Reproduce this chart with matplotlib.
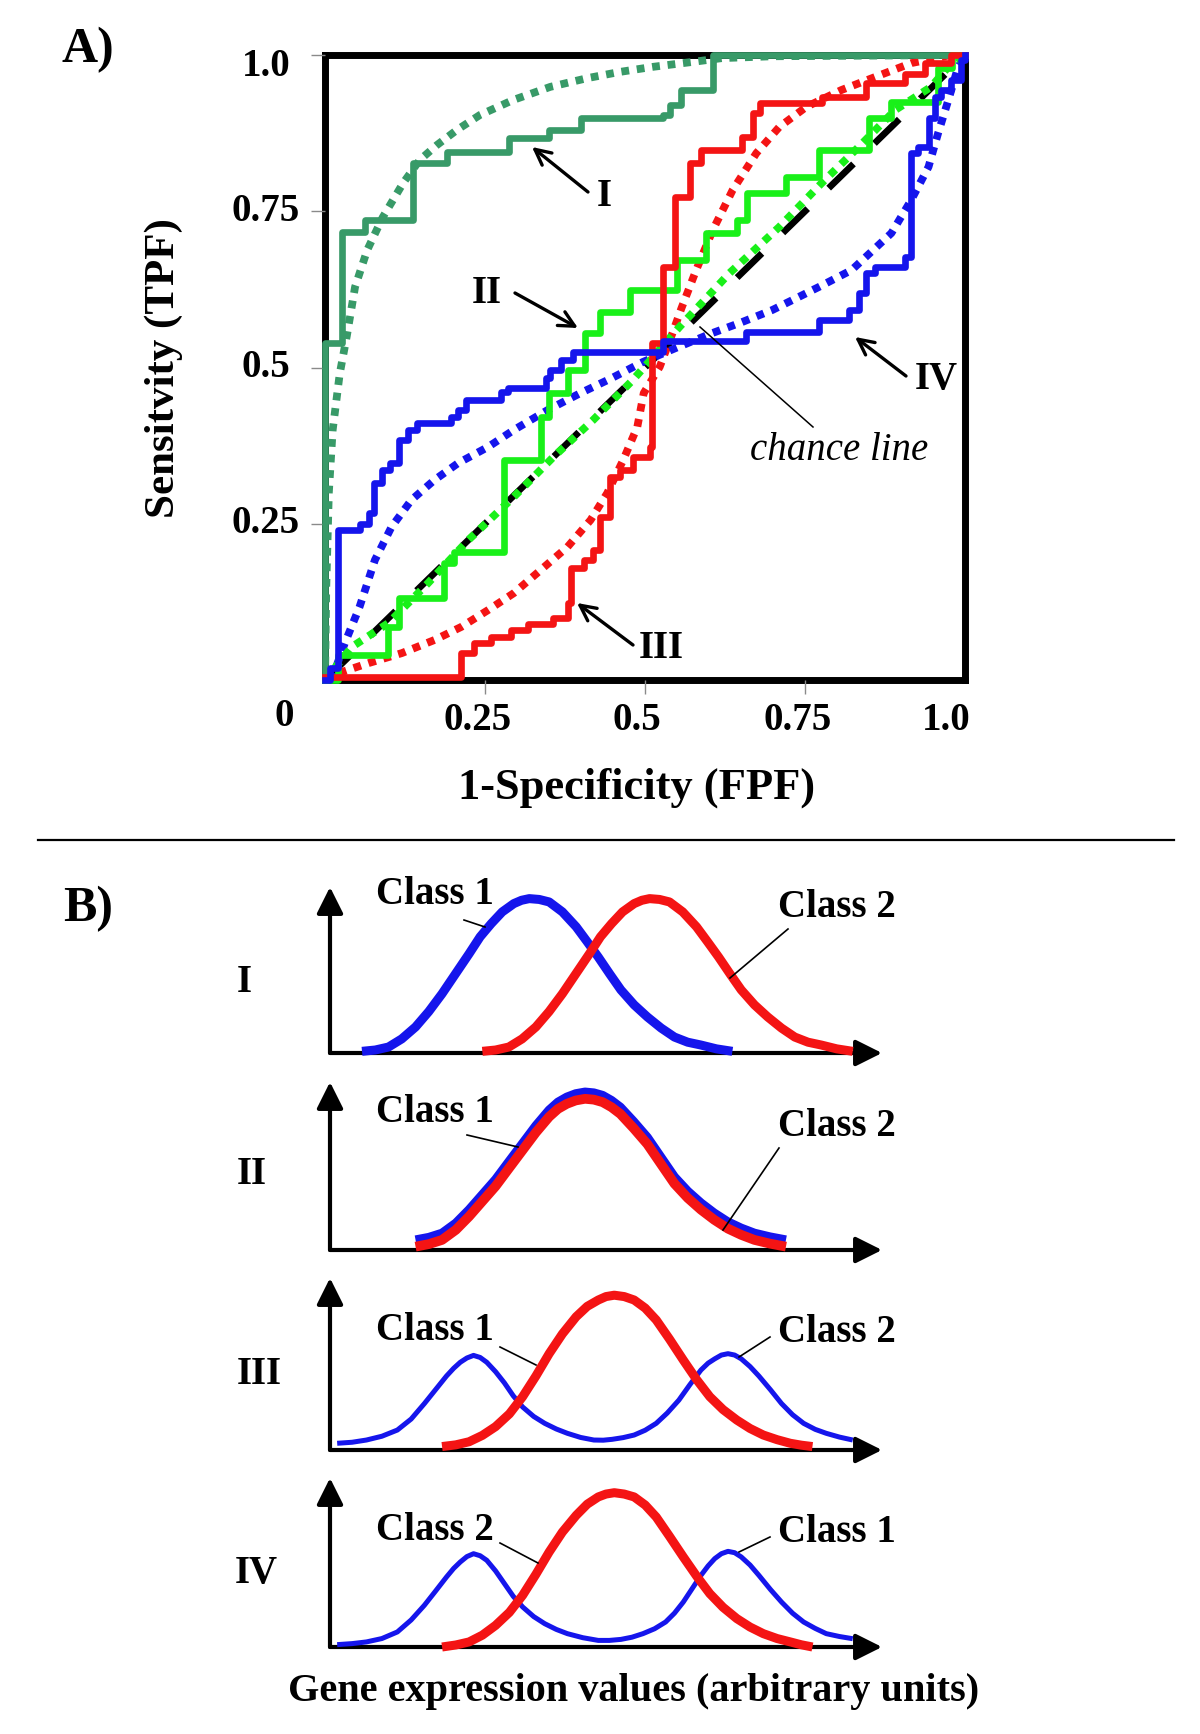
import matplotlib
matplotlib.use('Agg')
import matplotlib.pyplot as plt
import matplotlib.transforms as mtransforms
from matplotlib.patches import FancyArrowPatch
from matplotlib.lines import Line2D

plt.rcParams['font.family'] = ['Liberation Serif', 'DejaVu Serif']

# ---------------- Panel A data (ROC curves) ----------------
xticks = [0.25, 0.5, 0.75]
xticklabels = ['0.25', '0.5', '0.75']
yticks = [0.25, 0.5, 0.75, 1.0]
yticklabels = ['0.25', '0.5', '0.75', '1.0']

# empirical (step) ROC curves, steps-post vertices
roc1_x = [0.0, 0.0, 0.026, 0.062, 0.138, 0.19, 0.287, 0.35, 0.40, 0.528, 0.539, 0.557, 0.606, 1.0]
roc1_y = [0.0, 0.54, 0.717, 0.736, 0.827, 0.845, 0.867, 0.88, 0.90, 0.904, 0.92, 0.944, 1.0, 1.0]

roc2_x = [0.0, 0.02, 0.099, 0.115, 0.186, 0.202, 0.280, 0.337, 0.35, 0.379, 0.407, 0.43, 0.477,
          0.55, 0.596, 0.643, 0.66, 0.72, 0.772, 0.85, 0.885, 0.958, 0.98, 1.0]
roc2_y = [0.0, 0.04, 0.085, 0.131, 0.187, 0.205, 0.352, 0.421, 0.459, 0.496, 0.555, 0.589, 0.624,
          0.672, 0.715, 0.736, 0.78, 0.805, 0.848, 0.9, 0.925, 0.98, 1.0, 1.0]

roc3_x = [0.0, 0.213, 0.233, 0.26, 0.29, 0.317, 0.357, 0.379, 0.384, 0.404, 0.419, 0.43, 0.446,
          0.461, 0.481, 0.508, 0.511, 0.528, 0.547, 0.57, 0.588, 0.652, 0.668, 0.679, 0.776,
          0.845, 0.907, 0.938, 0.978, 1.0]
roc3_y = [0.005, 0.043, 0.06, 0.069, 0.08, 0.09, 0.10, 0.123, 0.18, 0.192, 0.208, 0.261, 0.325,
          0.336, 0.357, 0.373, 0.539, 0.661, 0.773, 0.827, 0.848, 0.869, 0.907, 0.923, 0.933,
          0.955, 0.97, 0.987, 1.0, 1.0]

roc4_x = [0.0, 0.008, 0.021, 0.055, 0.068, 0.076, 0.089, 0.101, 0.115, 0.13, 0.143, 0.197, 0.208,
          0.22, 0.275, 0.286, 0.345, 0.352, 0.368, 0.388, 0.528, 0.658, 0.772, 0.818, 0.834,
          0.845, 0.86, 0.907, 0.916, 0.927, 0.943, 0.953, 0.963, 0.978, 0.994, 1.0]
roc4_y = [0.0, 0.02, 0.24, 0.25, 0.267, 0.315, 0.336, 0.347, 0.384, 0.40, 0.411, 0.421, 0.432,
          0.448, 0.461, 0.467, 0.483, 0.496, 0.512, 0.525, 0.542, 0.557, 0.576, 0.592, 0.619,
          0.651, 0.661, 0.677, 0.843, 0.853, 0.9, 0.933, 0.944, 0.96, 0.992, 1.0]

# smooth (fitted) ROC curves, read at points
fit1_x = [0.0, 0.002, 0.006, 0.012, 0.023, 0.034, 0.047, 0.066, 0.09, 0.122, 0.148, 0.175, 0.206,
          0.242, 0.294, 0.352, 0.41, 0.461, 0.512, 0.575, 0.62, 0.7, 1.0]
fit1_y = [0.0, 0.15, 0.30, 0.40, 0.49, 0.55, 0.629, 0.688, 0.74, 0.795, 0.832, 0.856, 0.88,
          0.904, 0.928, 0.949, 0.963, 0.973, 0.981, 0.989, 0.995, 0.998, 1.0]

fit2_x = [0.0, 0.042, 0.099, 0.161, 0.224, 0.295, 0.357, 0.419, 0.481, 0.554, 0.632, 0.71,
          0.776, 0.834, 0.891, 0.947, 0.974, 1.0]
fit2_y = [0.0, 0.053, 0.091, 0.155, 0.224, 0.293, 0.357, 0.416, 0.48, 0.565, 0.651, 0.725,
          0.795, 0.853, 0.912, 0.949, 0.981, 1.0]

fit3_x = [0.0, 0.021, 0.068, 0.12, 0.171, 0.213, 0.255, 0.295, 0.337, 0.379, 0.415, 0.441, 0.466,
          0.488, 0.498, 0.523, 0.543, 0.557, 0.58, 0.606, 0.637, 0.674, 0.71, 0.752, 0.807, 0.86,
          0.916, 0.978, 1.0]
fit3_y = [0.0, 0.011, 0.027, 0.043, 0.064, 0.085, 0.112, 0.139, 0.176, 0.213, 0.256, 0.299, 0.352,
          0.405, 0.459, 0.501, 0.555, 0.595, 0.656, 0.72, 0.784, 0.843, 0.885, 0.917, 0.944, 0.965,
          0.987, 1.0, 1.0]

fit4_x = [0.01, 0.031, 0.054, 0.078, 0.104, 0.135, 0.171, 0.208, 0.255, 0.295, 0.348, 0.399, 0.448,
          0.497, 0.55, 0.605, 0.65, 0.699, 0.772, 0.823, 0.885, 0.916, 0.943, 0.958, 0.974, 0.989, 1.0]
fit4_y = [0.0, 0.059, 0.117, 0.192, 0.245, 0.288, 0.32, 0.347, 0.373, 0.40, 0.432, 0.459, 0.483,
          0.509, 0.532, 0.555, 0.572, 0.592, 0.629, 0.656, 0.715, 0.768, 0.821, 0.875, 0.928, 0.98, 1.0]

chance_x = [0.0, 1.0]
chance_y = [0.0, 1.0]

# ---------------- Panel B data (class distributions) ----------------
I_blue_x = [0.58, 0.82, 1.06, 1.30, 1.55, 1.79, 2.03, 2.28, 2.52, 2.72, 2.92, 3.12, 3.33, 3.47, 3.61,
            3.79, 3.97, 4.21, 4.46, 4.66, 4.86, 5.07, 5.27, 5.51, 5.75, 6.00, 6.24, 6.48, 6.72, 7.00, 7.29]
I_blue_y = [0.01, 0.018, 0.036, 0.085, 0.157, 0.25, 0.357, 0.48, 0.598, 0.70, 0.779, 0.85, 0.90, 0.92, 0.93,
            0.925, 0.91, 0.85, 0.76, 0.67, 0.578, 0.475, 0.38, 0.29, 0.217, 0.15, 0.096, 0.065, 0.048, 0.025, 0.01]
I_red_x = [2.76, 3.00, 3.24, 3.48, 3.73, 3.97, 4.21, 4.46, 4.70, 4.90, 5.10, 5.30, 5.51, 5.65, 5.79,
           5.97, 6.15, 6.39, 6.64, 6.84, 7.04, 7.25, 7.45, 7.69, 7.93, 8.18, 8.42, 8.66, 8.90, 9.18, 9.47]
I_red_y = [0.01, 0.018, 0.036, 0.085, 0.157, 0.25, 0.357, 0.48, 0.598, 0.70, 0.779, 0.85, 0.90, 0.92, 0.93,
           0.925, 0.91, 0.85, 0.76, 0.67, 0.578, 0.475, 0.38, 0.29, 0.217, 0.15, 0.096, 0.065, 0.048, 0.025, 0.01]

II_x = [1.55, 1.79, 2.03, 2.28, 2.52, 2.76, 3.00, 3.25, 3.49, 3.73, 3.97, 4.13, 4.29, 4.45, 4.62, 4.78,
        4.94, 5.10, 5.26, 5.50, 5.75, 6.00, 6.24, 6.48, 6.72, 6.96, 7.21, 7.45, 7.69, 7.97, 8.26]
II_blue_y = [0.06, 0.075, 0.10, 0.16, 0.24, 0.33, 0.42, 0.53, 0.635, 0.74, 0.833, 0.88, 0.91, 0.93, 0.94, 0.935,
             0.92, 0.89, 0.85, 0.765, 0.67, 0.55, 0.435, 0.35, 0.28, 0.22, 0.167, 0.13, 0.10, 0.078, 0.06]
II_red_y = [0.02, 0.035, 0.06, 0.12, 0.20, 0.29, 0.38, 0.49, 0.595, 0.70, 0.793, 0.84, 0.87, 0.89, 0.90, 0.895,
            0.88, 0.85, 0.81, 0.725, 0.63, 0.51, 0.395, 0.31, 0.24, 0.18, 0.127, 0.09, 0.06, 0.038, 0.02]

III_blue_x = [0.13, 0.40, 0.66, 0.94, 1.22, 1.47, 1.71, 1.91, 2.11, 2.24, 2.36, 2.48, 2.60, 2.72, 2.84,
              3.00, 3.16, 3.32, 3.49, 3.69, 3.89, 4.10, 4.30, 4.54, 4.78, 4.95, 5.11, 5.31, 5.51, 5.71,
              5.91, 6.11, 6.32, 6.52, 6.72, 6.85, 6.97, 7.09, 7.21, 7.33, 7.45, 7.61, 7.77, 7.98, 8.18,
              8.38, 8.58, 8.79, 8.99, 9.23, 9.47]
III_blue_y = [0.039, 0.045, 0.058, 0.08, 0.116, 0.18, 0.27, 0.35, 0.43, 0.475, 0.51, 0.535, 0.55, 0.538, 0.51,
              0.455, 0.39, 0.315, 0.25, 0.195, 0.155, 0.122, 0.097, 0.073, 0.058, 0.057, 0.062, 0.072, 0.087, 0.115,
              0.155, 0.215, 0.29, 0.38, 0.465, 0.505, 0.53, 0.552, 0.56, 0.552, 0.53, 0.485, 0.43, 0.35, 0.27,
              0.205, 0.155, 0.12, 0.097, 0.075, 0.058]
III_red_x = [2.03, 2.28, 2.52, 2.76, 3.00, 3.25, 3.49, 3.73, 3.97, 4.21, 4.46, 4.66, 4.86, 5.00, 5.15, 5.33,
             5.51, 5.71, 5.91, 6.15, 6.40, 6.64, 6.88, 7.12, 7.37, 7.61, 7.85, 8.10, 8.34, 8.54, 8.74]
III_red_y = [0.02, 0.03, 0.048, 0.085, 0.136, 0.21, 0.31, 0.43, 0.56, 0.675, 0.775, 0.835, 0.872, 0.892, 0.90, 0.892,
             0.872, 0.825, 0.756, 0.645, 0.523, 0.41, 0.31, 0.235, 0.174, 0.125, 0.087, 0.06, 0.039, 0.028, 0.02]

IV_blue_x = [0.13, 0.40, 0.66, 0.94, 1.22, 1.47, 1.71, 1.91, 2.11, 2.24, 2.36, 2.48, 2.60, 2.72, 2.84,
             3.00, 3.16, 3.32, 3.49, 3.69, 3.89, 4.10, 4.30, 4.58, 4.86, 5.06, 5.27, 5.47, 5.67, 5.88,
             6.08, 6.24, 6.40, 6.56, 6.72, 6.85, 6.97, 7.09, 7.21, 7.33, 7.45, 7.61, 7.77, 7.98, 8.18,
             8.38, 8.58, 8.79, 8.99, 9.23, 9.47]
IV_blue_y = [0.014, 0.02, 0.03, 0.05, 0.089, 0.16, 0.247, 0.33, 0.414, 0.465, 0.503, 0.535, 0.552, 0.54, 0.513,
             0.45, 0.375, 0.30, 0.237, 0.18, 0.138, 0.104, 0.079, 0.055, 0.039, 0.039, 0.045, 0.058, 0.079, 0.108,
             0.148, 0.20, 0.266, 0.345, 0.424, 0.48, 0.523, 0.552, 0.566, 0.558, 0.533, 0.485, 0.424, 0.34, 0.266,
             0.20, 0.148, 0.11, 0.079, 0.062, 0.049]
IV_red_x = [2.03, 2.28, 2.52, 2.76, 3.00, 3.25, 3.49, 3.73, 3.97, 4.21, 4.46, 4.66, 4.86, 5.00, 5.15, 5.33,
            5.51, 5.71, 5.91, 6.15, 6.40, 6.64, 6.88, 7.12, 7.37, 7.61, 7.85, 8.10, 8.34, 8.54, 8.74]
IV_red_y = [0.0, 0.012, 0.03, 0.07, 0.128, 0.205, 0.306, 0.43, 0.562, 0.68, 0.779, 0.845, 0.888, 0.905, 0.913, 0.905,
            0.888, 0.84, 0.769, 0.655, 0.533, 0.42, 0.316, 0.235, 0.168, 0.118, 0.079, 0.05, 0.03, 0.013, 0.0]

panel_names = ['I', 'II', 'III', 'IV']
left_labels = ['Class 1', 'Class 1', 'Class 1', 'Class 2']
right_labels = ['Class 2', 'Class 2', 'Class 2', 'Class 1']

# ---------------- styling ----------------
DG = '#389A68'
LG = '#19F019'
RED = '#F41414'
BLUE = '#1515EC'
W, H = 1200, 1734


def fx(x):
    return x / W


def fy(y):
    return 1 - y / H


def ftext(x, y, s, size, **kw):
    kw.setdefault('fontweight', 'bold')
    fig.text(fx(x), fy(y), s, ha='center', va='center', fontsize=size, **kw)


def fline(p0, p1, lw=1.2):
    fig.add_artist(Line2D([fx(p0[0]), fx(p1[0])], [fy(p0[1]), fy(p1[1])],
                          transform=fig.transFigure, color='black', lw=lw))


def farrow(tail, head):
    fig.add_artist(FancyArrowPatch((fx(tail[0]), fy(tail[1])), (fx(head[0]), fy(head[1])),
                                   transform=fig.transFigure, arrowstyle='->',
                                   mutation_scale=28, lw=2.4, color='black',
                                   shrinkA=0, shrinkB=0))


fig = plt.figure(figsize=(12, 17.34), dpi=100)
fig.patch.set_facecolor('white')

# ---------------- Panel A ----------------
axL, axR, axT, axB = 325, 965, 55, 680
ax = fig.add_axes([fx(axL), fy(axB), (axR - axL) / W, (axB - axT) / H])
ax.set_xlim(0, 1)
ax.set_ylim(0, 1)
for s in ax.spines.values():
    s.set_linewidth(5)
    s.set_color('black')
    s.set_zorder(1)
ax.set_xticks(xticks)
ax.set_yticks(yticks)
ax.tick_params(direction='out', length=10, width=1, color='#8a8a8a',
               labelbottom=False, labelleft=False)

ax.plot(chance_x, chance_y, color='black', lw=4.8, linestyle=(0, (5.2, 4.4)),
        dash_capstyle='butt', zorder=2)
dot = (0, (1.0, 1.0))
DLW = 5.6
ax.plot(fit1_x, fit1_y, color=DG, lw=DLW, linestyle=dot, dash_capstyle='butt', zorder=3)
ax.plot(fit3_x, fit3_y, color=RED, lw=DLW, linestyle=dot, dash_capstyle='butt', zorder=3)
ax.plot(fit4_x, fit4_y, color=BLUE, lw=DLW, linestyle=dot, dash_capstyle='butt', zorder=3)
ax.plot(fit2_x, fit2_y, color=LG, lw=DLW, linestyle=dot, dash_capstyle='butt', zorder=3)

SLW = 4.8
ax.step(roc1_x, roc1_y, where='post', color=DG, lw=SLW, zorder=4, clip_on=False)
ax.step(roc2_x, roc2_y, where='post', color=LG, lw=SLW, zorder=5, clip_on=False)
ax.step(roc3_x, roc3_y, where='post', color=RED, lw=SLW, zorder=6, clip_on=False)
ax.step(roc4_x, roc4_y, where='post', color=BLUE, lw=SLW, zorder=7, clip_on=False)

# tick labels
ytr = mtransforms.blended_transform_factory(fig.transFigure, ax.transData)
for v, lab in zip(yticks, yticklabels):
    ax.text(fx(266), min(v, 0.982), lab, transform=ytr, ha='center', va='center',
            fontsize=28, fontweight='bold')
xtr = mtransforms.blended_transform_factory(ax.transData, fig.transFigure)
for v, lab in zip(xticks, xticklabels):
    ax.text(v - 0.012, fy(721), lab, transform=xtr, ha='center', va='center',
            fontsize=28, fontweight='bold')
ax.text(0.97, fy(721), '1.0', transform=xtr, ha='center', va='center',
        fontsize=28, fontweight='bold')
ftext(284, 717, '0', 28)

ftext(164, 368, 'Sensitvity (TPF)', 31, rotation=90)
ftext(637, 788, '1-Specificity (FPF)', 32)
ftext(88, 50, 'A)', 36)

# curve annotations
farrow((588, 192), (532, 147))
ftext(604, 196, 'I', 28)
farrow((515, 293), (578, 328))
ftext(487, 294, 'II', 28)
farrow((633, 645), (577, 603))
ftext(661, 648, 'III', 28)
farrow((906, 376), (855, 337))
ftext(936, 380, 'IV', 28)
fline((700, 327), (813, 427), lw=1.1)
ftext(839, 450, 'chance line', 28, fontweight='normal', fontstyle='italic')

# separator
fline((38, 840), (1174, 840), lw=1.6)

# ---------------- Panel B ----------------
ftext(88, 909, 'B)', 36)
ftext(634, 1692, 'Gene expression values (arbitrary units)', 29)

sub_layout = [(1053, 887), (1250, 1082), (1450, 1278), (1647, 1478)]
bx0, bx1 = 330, 882
curves = [
    [(I_blue_x, I_blue_y, BLUE, 6.5), (I_red_x, I_red_y, RED, 6.5)],
    [(II_x, II_blue_y, BLUE, 6.5), (II_x, II_red_y, RED, 7.0)],
    [(III_blue_x, III_blue_y, BLUE, 3.6), (III_red_x, III_red_y, RED, 6.5)],
    [(IV_blue_x, IV_blue_y, BLUE, 3.6), (IV_red_x, IV_red_y, RED, 6.5)],
]
name_pos = [(244, 982), (252, 1175), (259, 1374), (256, 1574)]
left_pos = [(435, 895), (435, 1112), (435, 1330), (435, 1530)]
right_pos = [(837, 908), (837, 1127), (837, 1332), (837, 1533)]
left_lead = [((464, 920), (485, 927)), ((467, 1135), (518, 1147)),
             ((500, 1347), (536, 1365)), ((500, 1543), (538, 1563))]
right_lead = [((788, 929), (730, 978)), ((779, 1148), (723, 1230)),
              ((770, 1337), (739, 1357)), ((770, 1537), (739, 1552))]

for i, (base, top) in enumerate(sub_layout):
    bax = fig.add_axes([fx(bx0), fy(base), (bx1 - bx0) / W, (base - top) / H])
    bax.set_xlim(0, 10)
    bax.set_ylim(0, 1)
    bax.axis('off')
    for (cx, cy, col, lw) in curves[i]:
        bax.plot(cx, cy, color=col, lw=lw, solid_capstyle='butt',
                 solid_joinstyle='round', clip_on=False, zorder=3)
    bax.annotate('', xy=(1, 0), xytext=(0, 0), xycoords='axes fraction',
                 arrowprops=dict(arrowstyle='-|>', lw=3, color='black',
                                 mutation_scale=40, shrinkA=0, shrinkB=0), zorder=2)
    bax.annotate('', xy=(0, 1), xytext=(0, 0), xycoords='axes fraction',
                 arrowprops=dict(arrowstyle='-|>', lw=3, color='black',
                                 mutation_scale=40, shrinkA=0, shrinkB=0), zorder=2)
    ftext(*name_pos[i], panel_names[i], 28)
    ftext(*left_pos[i], left_labels[i], 28)
    ftext(*right_pos[i], right_labels[i], 28)
    fline(*left_lead[i])
    fline(*right_lead[i])

fig.savefig('out.png', dpi=100, facecolor='white')
